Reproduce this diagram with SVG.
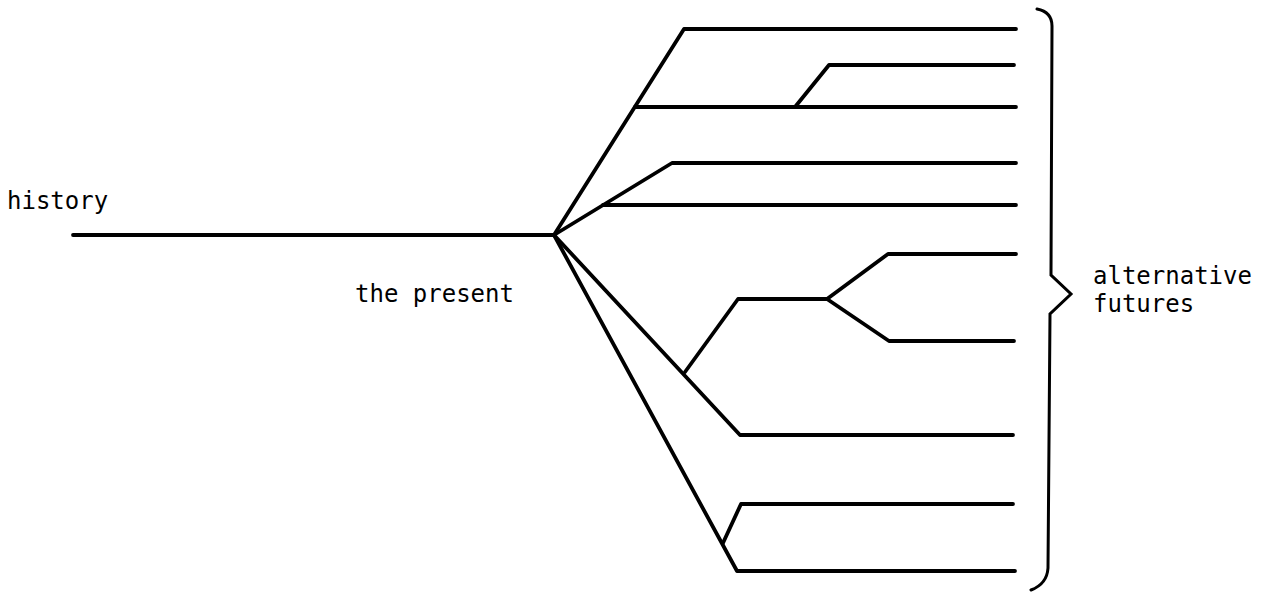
<svg xmlns="http://www.w3.org/2000/svg" width="1288" height="592" viewBox="0 0 1288 592">
<style>
.ln{fill:none;stroke:#000;stroke-width:3.8;stroke-linejoin:round;stroke-linecap:round}
.br{fill:none;stroke:#000;stroke-width:3;stroke-linejoin:miter;stroke-linecap:round}
.t{font-family:"DejaVu Sans Mono","Liberation Mono",monospace;font-size:24px;fill:#000}
</style>
<rect width="1288" height="592" fill="#fff"/>
<g id="connectors">
<path class="ln" d="M73,235 L554,235"/>
<path class="ln" d="M554,235 L684,29 L1016,29"/>
<path class="ln" d="M635,107 L1016,107"/>
<path class="ln" d="M795,107 L829,65 L1014,65"/>
<path class="ln" d="M554,235 L672,163 L1016,163"/>
<path class="ln" d="M603,205 L1016,205"/>
<path class="ln" d="M554,235 L740,435 L1013,435"/>
<path class="ln" d="M685,372 L738,299 L827,299"/>
<path class="ln" d="M827,299 L888,254 L1016,254"/>
<path class="ln" d="M827,299 L889,341 L1014,341"/>
<path class="ln" d="M554,235 L737,571 L1015,571"/>
<path class="ln" d="M723,543 L741,504 L1013,504"/>
</g>
<g id="brace">
<path class="br" d="M1037,9 Q1052,12 1052,26 L1051,275 L1071,294 L1050,314 L1048,568 Q1047,584 1031,590"/>
</g>
<g id="history"><text class="t" x="7" y="209">history</text></g>
<g id="present"><text class="t" x="355" y="302">the present</text></g>
<g id="futures"><text class="t" x="1093" y="284">alternative</text><text class="t" x="1093" y="312">futures</text></g>
</svg>
